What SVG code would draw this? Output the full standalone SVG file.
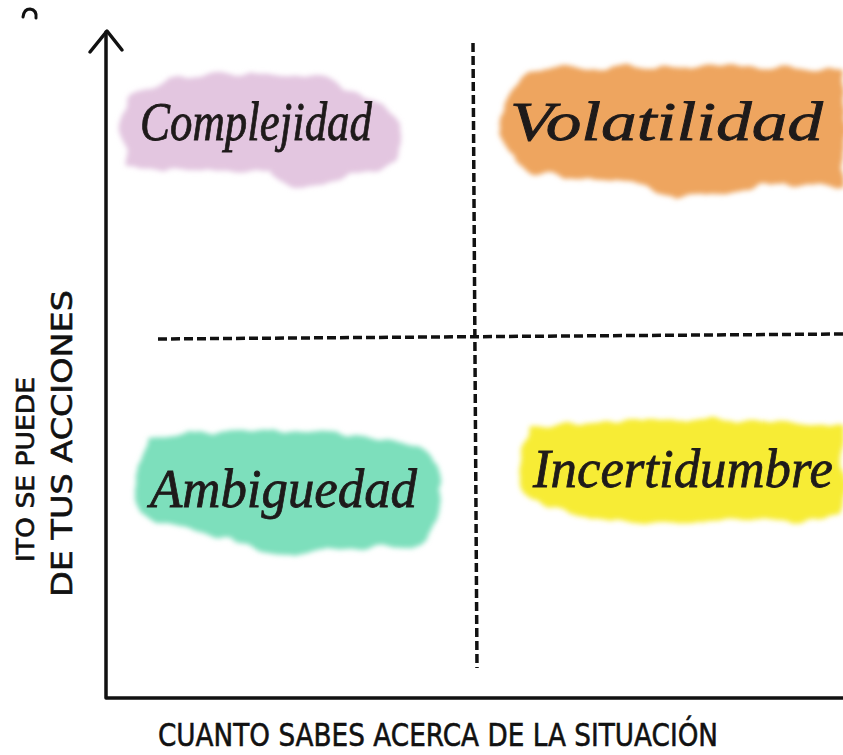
<svg xmlns="http://www.w3.org/2000/svg" width="843" height="755" viewBox="0 0 843 755">
<style>
.axis{fill:none;stroke:#111;stroke-width:3.5;stroke-linecap:round;stroke-linejoin:round}
.dash{fill:none;stroke:#111;stroke-width:3.5;stroke-dasharray:9 4}
.word{font-family:"Liberation Serif",serif;font-style:italic;font-size:54px;fill:#1e1a1a;stroke:#1e1a1a;stroke-width:0.8}
.cap{font-family:"DejaVu Sans",sans-serif;fill:#111;stroke:#111;stroke-width:0.6}
.blob{filter:url(#rough)}
</style>
<defs>
<filter id="rough" x="-10%" y="-20%" width="120%" height="140%">
<feTurbulence type="fractalNoise" baseFrequency="0.035" numOctaves="2" seed="5" result="n"/>
<feDisplacementMap in="SourceGraphic" in2="n" scale="14" xChannelSelector="R" yChannelSelector="G" result="d"/>
<feGaussianBlur in="d" stdDeviation="2.5"/>
</filter>
</defs>
<rect width="843" height="755" fill="#fff"/>

<g id="complejidad">
<path class="blob" fill="#e3c6e0" d="M126,100 Q150,78 230,73 Q320,70 345,90 Q395,100 401,130 Q404,165 370,172 Q330,178 305,187 Q280,186 270,170 Q200,172 130,168 Q118,135 126,100 Z"/>
<text class="word" x="140" y="140" textLength="232" lengthAdjust="spacingAndGlyphs">Complejidad</text>
</g>

<g id="volatilidad">
<path class="blob" fill="#eea55e" d="M528,72 Q600,64 700,68 Q800,66 843,70 L843,188 Q800,186 760,184 Q720,198 680,196 Q640,190 620,180 Q570,178 535,172 Q505,160 500,135 Q500,100 528,72 Z"/>
<text class="word" x="510" y="140" textLength="313" lengthAdjust="spacingAndGlyphs">Volatilidad</text>
</g>

<g id="ambiguedad">
<path class="blob" fill="#7ddfbc" d="M150,440 Q200,428 270,432 Q350,430 420,446 Q442,460 440,490 Q442,530 420,545 Q350,550 290,553 Q250,552 230,540 Q170,530 140,512 Q128,480 150,440 Z"/>
<text class="word" x="150" y="507" textLength="267" lengthAdjust="spacingAndGlyphs">Ambiguedad</text>
</g>

<g id="incertidumbre">
<path class="blob" fill="#f7ec35" d="M530,428 Q600,418 700,420 Q790,418 843,428 L843,515 Q800,522 740,520 Q680,528 620,522 Q560,514 530,503 Q510,475 530,428 Z"/>
<text class="word" x="533" y="487" textLength="300" lengthAdjust="spacingAndGlyphs">Incertidumbre</text>
</g>

<g id="connectors">
<path class="axis" d="M106,32 L106,698 L843,698"/>
<path class="axis" d="M90,52 L107,31 L122,50"/>
<path class="dash" d="M158,339 L843,334"/>
<path class="dash" d="M473,43 L477,668"/>
</g>

<g id="labels">
<path fill="none" stroke="#111" stroke-width="3" stroke-linecap="round" d="M23,17 Q24,9 30,9 Q37,10 36,18"/>
<text class="cap" x="0" y="0" font-size="25" textLength="185" lengthAdjust="spacingAndGlyphs" transform="translate(34,562) rotate(-90)">ITO SE PUEDE</text>
<text class="cap" x="0" y="0" font-size="29" textLength="307" lengthAdjust="spacingAndGlyphs" transform="translate(72,597) rotate(-90)">DE TUS ACCIONES</text>
<text class="cap" x="158" y="746" font-size="32" textLength="560" lengthAdjust="spacingAndGlyphs">CUANTO SABES ACERCA DE LA SITUACIÓN</text>
</g>
</svg>
